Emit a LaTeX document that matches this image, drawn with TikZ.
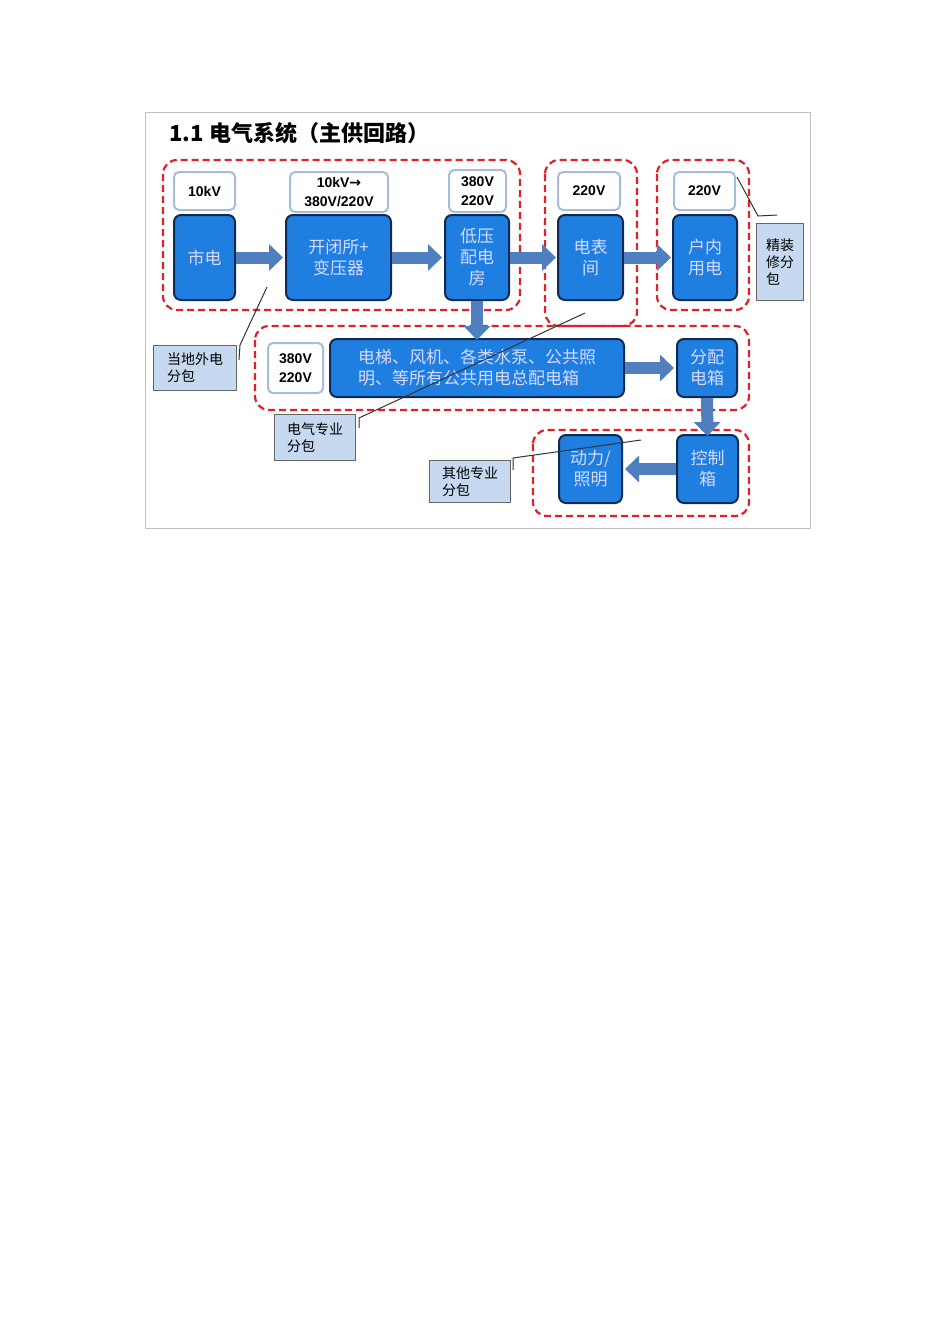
\documentclass[tikz,border=0pt]{standalone}
\usepackage{fontspec}
\setmainfont{Liberation Sans}
\newfontfamily\cjk{Noto Sans CJK SC}
\usetikzlibrary{arrows.meta}
\definecolor{bfill}{HTML}{1E7FE0}
\definecolor{bdraw}{HTML}{0F2A55}
\definecolor{afill}{HTML}{4F7FBF}
\definecolor{lbl}{HTML}{A9BCD6}
\definecolor{cfill}{HTML}{C6D9F1}
\definecolor{grp}{HTML}{E0202A}
\tikzset{
 bluebox/.style={draw=bdraw,line width=2pt,fill=bfill,rounded corners=7pt,text=white!85!blue,font=\cjk\fontsize{17}{21}\selectfont,align=center,inner sep=0pt},
 lblbox/.style={draw=lbl,line width=2pt,fill=white,rounded corners=5pt,font=\bfseries\fontsize{14}{19}\selectfont,align=center,inner sep=0pt},
 callout/.style={draw=gray!80!black,line width=1pt,fill=cfill,font=\cjk\fontsize{14}{17}\selectfont,align=left,inner sep=3pt,anchor=north west},
 grpbox/.style={draw=grp,dashed,dash pattern=on 7pt off 4pt,line width=2.2pt,rounded corners=14pt},
 barrow/.style={draw=afill,line width=12pt,-{Triangle[length=14pt,width=26pt]},shorten >=0pt},
 leader/.style={draw=black!80,line width=1pt}
}
\begin{document}
\begin{tikzpicture}[x=1pt,y=-1pt]
\useasboundingbox (0,0) rectangle (950,1344);
\fill[white] (0,0) rectangle (950,1344);
\draw[gray!50,line width=1pt] (145,112) rectangle (810,528);
\node[anchor=west,font=\cjk\bfseries\fontsize{22}{26}\selectfont] (title) at (166,133) {1.1 电气系统（主供回路）};
% groups
\draw[grpbox] (163,160) rectangle (520,310);
\draw[grpbox] (545,160) rectangle (637,326);
\draw[grpbox] (657,160) rectangle (749,310);
\draw[grpbox] (255,326) rectangle (749,410);
\draw[grpbox] (533,430) rectangle (749,516);
% label boxes
\node[lblbox,minimum width=61pt,minimum height=38pt] (l1) at (204.5,191) {10kV};
\node[lblbox,minimum width=98pt,minimum height=40pt] (l2) at (339,192) {10kV{\fontspec{DejaVu Sans}→}\\380V/220V};
\node[lblbox,minimum width=57pt,minimum height=42pt] (l3) at (477.5,191) {380V\\220V};
\node[lblbox,minimum width=62pt,minimum height=38pt] (l4) at (589,191) {220V};
\node[lblbox,minimum width=61pt,minimum height=38pt] (l5) at (704.5,191) {220V};
\node[lblbox,minimum width=55pt,minimum height=50pt] (l6) at (295.5,368) {380V\\220V};
% blue boxes
\node[bluebox,minimum width=61pt,minimum height=85pt] (sd) at (204.5,257.5) {市电};
\node[bluebox,minimum width=105pt,minimum height=85pt] (kb) at (338.5,257.5) {开闭所+\\变压器};
\node[bluebox,minimum width=64pt,minimum height=85pt] (dy) at (477,257.5) {低压\\配电\\房};
\node[bluebox,minimum width=65pt,minimum height=85pt] (db) at (590.5,257.5) {电表\\间};
\node[bluebox,minimum width=64pt,minimum height=85pt] (hn) at (705,257.5) {户内\\用电};
\node[bluebox,minimum width=294pt,minimum height=58pt,align=left] (zp) at (477,368) {电梯、风机、各类水泵、公共照\\明、等所有公共用电总配电箱};
\node[bluebox,minimum width=60pt,minimum height=58pt] (fp) at (707,368) {分配\\电箱};
\node[bluebox,minimum width=61pt,minimum height=68pt] (kz) at (707.5,469) {控制\\箱};
\node[bluebox,minimum width=63pt,minimum height=68pt] (dl) at (590.5,469) {动力/\\照明};
% arrows
\draw[barrow] (sd.east) -- ([xshift=-2pt]kb.west);
\draw[barrow] (kb.east) -- ([xshift=-2pt]dy.west);
\draw[barrow] (dy.east) -- ([xshift=-1pt]db.west);
\draw[barrow] (db.east) -- ([xshift=-1pt]hn.west);
\draw[barrow] (dy.south) -- ([yshift=-2pt]zp.north -| dy.south);
\draw[barrow] (zp.east) -- ([xshift=-2pt]fp.west);
\draw[barrow] (fp.south) -- ([yshift=-2pt]kz.north);
\draw[barrow] (kz.west) -- ([xshift=2pt]dl.east);
% callouts
\node[callout,minimum width=83pt,minimum height=45pt] (c1) at (153,345) {当地外电\\分包};
\node[callout,minimum width=81pt,minimum height=46pt] (c2) at (274,414) {电气专业\\分包};
\node[callout,minimum width=81pt,minimum height=42pt] (c3) at (429,460) {其他专业\\分包};
\node[callout,minimum width=47pt,minimum height=77pt,anchor=north west] (c4) at (756,223) {精装\\修分\\包};
\coordinate (c1a) at (267,287);
\coordinate (c2a) at (585,313);
\coordinate (c3a) at (641,440);
\coordinate (c4a) at (737,177);
\draw[leader] (239,360) -- (240,345) -- (c1a);
\draw[leader] (359,428) -- (359,418) -- (c2a);
\draw[leader] (513,470) -- (513,458) -- (c3a);
\draw[leader] (c4a) -- (758,216) -- (777,215);
\end{tikzpicture}
\end{document}
